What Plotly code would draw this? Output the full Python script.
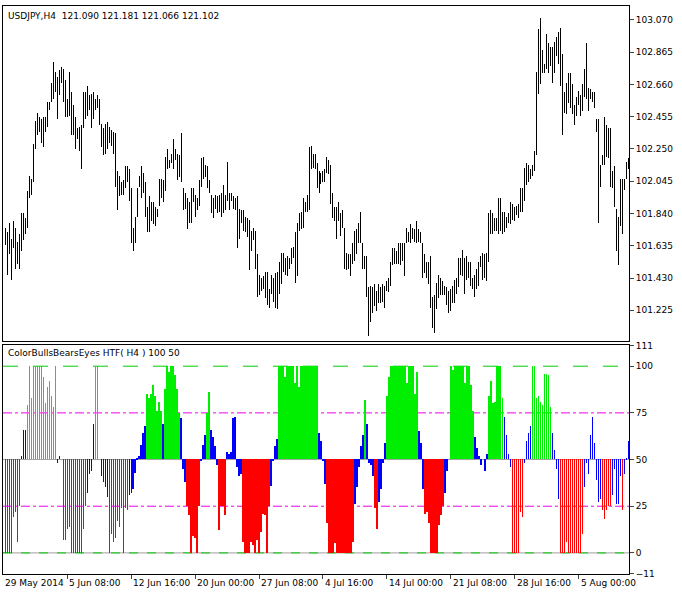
import plotly.graph_objects as go

high = [101.75,101.72,101.78,101.68,101.79,101.75,101.66,101.71,101.84,101.84,101.81,101.98,102.08,102.06,102.28,102.43,102.48,102.45,102.44,102.45,
102.45,102.55,102.55,102.67,102.80,102.74,102.71,102.75,102.77,102.76,102.69,102.57,102.74,102.61,102.53,102.45,102.38,102.39,102.40,102.61,
102.61,102.65,102.59,102.60,102.61,102.57,102.59,102.57,102.41,102.38,102.41,102.42,102.39,102.37,102.36,102.35,102.11,102.08,102.04,102.05,
102.14,102.14,102.12,102.00,101.75,101.82,102.00,102.08,102.14,102.10,102.04,101.88,101.95,101.91,101.91,101.88,101.87,102.06,102.06,102.05,
102.20,102.25,102.18,102.22,102.31,102.25,102.22,102.21,102.35,102.00,101.97,101.94,101.91,102.00,102.00,101.96,101.94,102.05,102.19,102.20,
102.15,102.14,102.05,101.96,101.94,101.96,101.95,101.96,101.97,102.02,101.96,102.17,101.97,101.97,101.95,101.94,101.95,101.87,101.86,101.86,
101.82,101.81,101.80,101.73,101.75,101.73,101.58,101.45,101.43,101.44,101.47,101.47,101.36,101.45,101.43,101.46,101.47,101.53,101.59,101.59,
101.56,101.57,101.56,101.62,101.63,101.72,101.78,101.84,101.85,101.94,101.91,101.96,102.26,102.27,102.22,102.22,102.16,102.11,102.10,102.11,
102.12,102.20,102.18,102.15,101.97,101.88,101.88,101.91,101.84,101.86,101.75,101.59,101.58,101.58,101.65,101.73,101.74,101.78,101.85,101.65,
101.57,101.57,101.37,101.38,101.37,101.39,101.35,101.39,101.37,101.39,101.38,101.41,101.43,101.53,101.62,101.62,101.60,101.65,101.65,101.65,
101.65,101.75,101.72,101.77,101.75,101.74,101.79,101.74,101.72,101.65,101.58,101.53,101.53,101.57,101.31,101.32,101.40,101.45,101.43,101.41,
101.38,101.37,101.35,101.36,101.38,101.42,101.43,101.56,101.56,101.61,101.56,101.57,101.53,101.53,101.43,101.45,101.49,101.53,101.57,101.59,
101.58,101.59,101.84,101.86,101.84,101.81,101.81,101.94,101.94,101.85,101.85,101.82,101.84,101.91,101.90,101.88,101.89,101.90,102.00,102.00,
102.13,102.16,102.15,102.12,102.15,102.24,102.74,103.01,103.08,102.88,102.79,102.98,102.92,102.90,102.90,102.93,102.96,102.99,103.02,102.85,
102.61,102.67,102.73,102.73,102.66,102.53,102.58,102.62,102.59,102.66,102.76,102.92,102.64,102.63,102.61,102.61,102.44,102.44,102.15,102.21,
102.45,102.40,102.38,102.38,102.11,102.14,101.87,101.82,102.06,102.06,102.06,102.17,102.19]
low = [101.64,101.45,101.58,101.42,101.62,101.49,101.52,101.49,101.60,101.67,101.71,101.75,101.94,101.96,102.04,102.25,102.34,102.36,102.29,102.26,
102.36,102.39,102.50,102.55,102.57,102.61,102.44,102.59,102.67,102.55,102.45,102.45,102.46,102.34,102.34,102.25,102.31,102.24,102.12,102.38,
102.44,102.46,102.50,102.38,102.44,102.50,102.51,102.40,102.26,102.21,102.22,102.25,102.29,102.27,102.22,102.01,101.86,101.95,101.96,101.96,
102.00,102.04,101.92,101.65,101.60,101.65,101.82,102.01,101.94,101.97,101.82,101.72,101.72,101.79,101.77,101.76,101.82,101.89,101.94,101.91,
101.98,102.12,102.13,102.16,102.12,102.18,102.05,102.07,102.04,101.86,101.87,101.74,101.78,101.78,101.91,101.82,101.86,101.89,102.01,102.06,
102.07,102.00,101.97,101.84,101.81,101.87,101.84,101.85,101.82,101.84,101.86,101.92,101.86,101.92,101.87,101.86,101.62,101.68,101.78,101.73,
101.72,101.69,101.48,101.60,101.67,101.49,101.31,101.32,101.35,101.36,101.30,101.26,101.24,101.33,101.28,101.24,101.23,101.33,101.39,101.47,
101.45,101.44,101.49,101.52,101.56,101.40,101.44,101.73,101.74,101.75,101.85,101.85,101.86,102.12,102.13,102.12,102.00,101.97,102.03,102.04,
102.04,102.10,102.09,101.90,101.81,101.79,101.68,101.79,101.70,101.75,101.49,101.48,101.49,101.44,101.52,101.54,101.58,101.65,101.65,101.49,
101.49,101.31,101.06,101.15,101.21,101.25,101.22,101.27,101.27,101.28,101.24,101.35,101.34,101.38,101.51,101.52,101.52,101.52,101.51,101.54,
101.44,101.65,101.66,101.65,101.68,101.66,101.65,101.66,101.65,101.43,101.46,101.43,101.39,101.24,101.11,101.08,101.23,101.30,101.32,101.32,
101.32,101.26,101.21,101.22,101.27,101.27,101.33,101.37,101.45,101.44,101.33,101.42,101.43,101.38,101.36,101.31,101.36,101.38,101.50,101.42,
101.43,101.41,101.53,101.71,101.71,101.73,101.73,101.71,101.73,101.71,101.72,101.75,101.78,101.77,101.80,101.79,101.83,101.81,101.85,101.85,
101.92,102.02,102.04,102.06,102.08,102.11,102.21,102.60,102.66,102.73,102.73,102.76,102.73,102.78,102.67,102.73,102.84,102.79,102.65,102.34,
102.48,102.47,102.54,102.51,102.47,102.40,102.46,102.53,102.46,102.49,102.58,102.57,102.49,102.57,102.55,102.51,102.36,101.78,102.01,102.15,
102.15,102.20,102.19,102.01,102.00,101.88,101.60,101.51,101.76,101.71,101.99,102.06,102.12]

indicator = [0,0,0,0,19,22,6,25, 52,66,66,
79,100,83,100,100,100,100,100,94,80,89,92,84,78,100, 48,52,50,
7,7,13,14,0,0,0,0,0,0,13,25, 32,42,44,69, 100,100, 50, 41,38,35,30,
0,10,6,8,17,14,24,0,24,23, 31,32,34,43,51,52,58,64,68,
85,83,85,90,84,76,81,76, 69, 88,100,97,100,100,95,88,75, 72,45,38,
25,20,0,9,8,0,25, 49,58,63, 75,86, 66,62,57,47, 12,25,25,20,
54,53,54,72,73,46,41,42, 6,0,0,0,6,4,0,7,0,11,21,20,0,25, 36,49,57,61,
100,100,100,94,100,100,100,100,91,100,89,100,100,100,100,100,100,100,100,100,
64,60,49,37, 16,0,
0,0,5,0,0,0,0,0,0,0,0,6, 26,35,46,57,63, 82, 69,48,47,41, 24,13, 27,34,48,59,
84,94,100,100,100,100,100,100,100,100,91,100,100,100,85,97, 65,59,34,
21,22,16,0,0,0,0,15,20,25, 32,44,50,
100,98,100,100,100,100,100,91,100,100,90,76, 62,56,52,47,50,44,53,
84,92,80,81,100,100,100,83, 73,63,53,46, 0,0,0,0,22,19, 48,60,64,68,
100,100,83,84,81,79,96,96,95,78, 64,55,45,29,
0,0,0,6,0,0,0,0,0,0,0,10, 35,48,42,63,73,59,39,27,29, 23,18,23,25,25,
31,45,26,26,41,23,42,51,60]

tick_pos = [31, 63, 95, 127, 159, 191, 223, 255, 287]
tick_text = ["5 Jun 08:00", "12 Jun 16:00", "20 Jun 00:00", "27 Jun 08:00", "4 Jul 16:00",
             "14 Jul 00:00", "21 Jul 08:00", "28 Jul 16:00", "5 Aug 00:00"]
price_ticks = [101.225, 101.430, 101.635, 101.840, 102.045, 102.250, 102.455, 102.660, 102.865, 103.070]
ind_ticks = [-11, 0, 25, 50, 75, 100, 111]

n = len(high)

xs, ys = [], []
for i, (h, l) in enumerate(zip(high, low)):
    xs += [i, i, None]
    ys += [l, h, None]

fig = go.Figure()
fig.add_trace(go.Scatter(x=xs, y=ys, mode="lines", line=dict(color="black", width=1),
                         xaxis="x", yaxis="y", hoverinfo="skip"))
colors = ["#00ee00" if v >= 75 else ("#ff0000" if v <= 25 else "#0000ff") for v in indicator]
fig.add_trace(go.Bar(x=list(range(n)), base=[50] * n, y=[v - 50 for v in indicator], width=0.3,
                     marker=dict(color=colors, line=dict(width=0)), xaxis="x2", yaxis="y2",
                     hoverinfo="skip"))

font = dict(family="DejaVu Sans", size=9, color="black")
xr = [-1.25, n - 0.75]
fig.update_layout(
    width=682, height=594, showlegend=False, plot_bgcolor="white", paper_bgcolor="white",
    margin=dict(l=2, r=53, t=3, b=20), font=font, bargap=0,
    xaxis=dict(domain=[0, 1], range=xr, anchor="y", showticklabels=False, showgrid=False,
               showline=True, mirror=True, linecolor="black", zeroline=False, ticks=""),
    yaxis=dict(domain=[0.41, 1], range=[101.029, 103.158], side="right", tickvals=price_ticks,
               ticktext=[f"{v:.3f}" for v in price_ticks], ticks="outside", ticklen=4,
               showgrid=False, showline=True, mirror=True, linecolor="black", zeroline=False),
    xaxis2=dict(domain=[0, 1], range=xr, anchor="y2", tickvals=tick_pos, ticktext=[""] * len(tick_pos),
                ticks="outside", ticklen=4, showgrid=False, showline=True, mirror=True,
                linecolor="black", zeroline=False),
    yaxis2=dict(domain=[0, 0.403], range=[-11.3, 111.3], side="right", tickvals=ind_ticks,
                ticks="outside", ticklen=4, showgrid=False, showline=True, mirror=True,
                linecolor="black", zeroline=False),
)
for lvl, col, dash in [(50, "#a0a0a0", "solid"), (0, "#a0a0a0", "solid"), (0, "#00cc00", "dash"),
                       (100, "#00cc00", "longdash"), (75, "#ee00ee", "dashdot"), (25, "#ee00ee", "dashdot")]:
    fig.add_shape(type="line", xref="x2 domain", yref="y2", x0=0, x1=1, y0=lvl, y1=lvl,
                  line=dict(color=col, width=1, dash=dash), layer="below")
fig.add_annotation(text="USDJPY,H4  121.090 121.181 121.066 121.102", xref="paper", yref="paper",
                   x=0.005, y=1, yanchor="top", xanchor="left", showarrow=False, font=font, yshift=-3)
fig.add_annotation(text="ColorBullsBearsEyes HTF( H4 ) 100 50", xref="paper", yref="paper",
                   x=0.005, y=0.403, yanchor="top", xanchor="left", showarrow=False, font=font, yshift=-1)
fig.add_annotation(text="29 May 2014", xref="x2", yref="paper", x=xr[0], y=0, yanchor="top",
                   xanchor="left", showarrow=False, font=font, yshift=-2)
for p, t in zip(tick_pos, tick_text):
    fig.add_annotation(text=t, xref="x2", yref="paper", x=p, y=0, yanchor="top",
                       xanchor="left", showarrow=False, font=font, yshift=-2)
post = """document.body.style.margin='0';
var st=document.createElement('style');
st.textContent='.xy .scatterlayer path{shape-rendering:crispEdges !important;}';
document.head.appendChild(st);"""
fig.write_html("out.html", config={"displayModeBar": False}, post_script=post)
